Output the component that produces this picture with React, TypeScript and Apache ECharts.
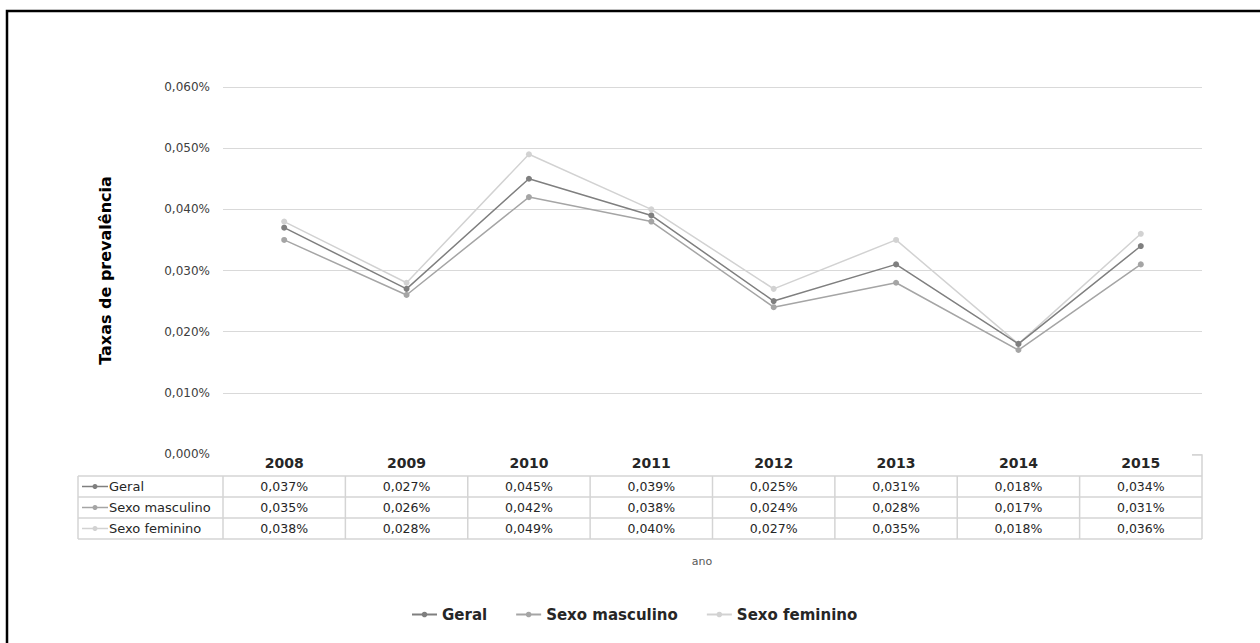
import React, { useEffect, useRef } from "react";
import * as echarts from "echarts";

const years = ["2008", "2009", "2010", "2011", "2012", "2013", "2014", "2015"];
const seriesNames = ["Geral", "Sexo masculino", "Sexo feminino"];
const geral = [0.037, 0.027, 0.045, 0.039, 0.025, 0.031, 0.018, 0.034];
const masculino = [0.035, 0.026, 0.042, 0.038, 0.024, 0.028, 0.017, 0.031];
const feminino = [0.038, 0.028, 0.049, 0.040, 0.027, 0.035, 0.018, 0.036];
const seriesColors = ["#7f7f7f", "#a5a5a5", "#d2d2d2"];
const yTicks = { min: 0, max: 0.06, interval: 0.01 };

const fmt = (v: number) => v.toFixed(3).replace(".", ",") + "%";

const W = 1260;
const H = 643;
const gridLeft = 223;
const gridRight = 1202;
const gridTop = 87;
const gridBottomY = 454;
const tableLeft = 78;
const rowLines = [476, 497, 518, 539];

export default function App() {
  const ref = useRef<HTMLDivElement>(null);
  useEffect(() => {
    if (!ref.current) return;
    const chart = echarts.init(ref.current, null, { renderer: "svg" });
    const rows = [geral, masculino, feminino];
    const colW = (gridRight - gridLeft) / years.length;
    const rowCenters = [0, 1, 2].map((i) => (rowLines[i] + rowLines[i + 1]) / 2);
    const font = "DejaVu Sans";
    const textColor = "#262626";
    const borderColor = "#d4d4d4";

    const graphics: any[] = [];
    // outer frame
    graphics.push({
      type: "rect",
      shape: { x: 7, y: 11, width: 1400, height: 800 },
      style: { fill: "none", stroke: "#000", lineWidth: 2.5 },
      silent: true,
    });
    // hide the zero gridline (the reference shows none there)
    graphics.push({
      type: "line",
      z: 100,
      shape: { x1: gridLeft - 1, y1: gridBottomY, x2: gridRight - 10, y2: gridBottomY },
      style: { stroke: "#fff", lineWidth: 3 },
    });
    // table horizontal lines
    rowLines.forEach((y) => {
      graphics.push({
        type: "line",
        shape: { x1: tableLeft, y1: y, x2: gridRight, y2: y },
        style: { stroke: borderColor, lineWidth: 1.5 },
      });
    });
    // vertical lines
    const vx = [tableLeft, gridLeft];
    for (let i = 1; i <= years.length; i++) vx.push(gridLeft + i * colW);
    vx.forEach((x) => {
      graphics.push({
        type: "line",
        shape: { x1: x, y1: rowLines[0], x2: x, y2: rowLines[3] },
        style: { stroke: borderColor, lineWidth: 1.5 },
      });
    });
    // header right border
    graphics.push({
      type: "polyline",
      z: 101,
      shape: { points: [[gridRight - 10, gridBottomY + 1], [gridRight, gridBottomY + 1], [gridRight, rowLines[0]]] },
      style: { stroke: borderColor, lineWidth: 1.5, fill: "none" },
    });
    // row labels with legend glyphs
    seriesNames.forEach((name, i) => {
      const cy = rowCenters[i];
      graphics.push({
        type: "line",
        shape: { x1: 82, y1: cy, x2: 108, y2: cy },
        style: { stroke: seriesColors[i], lineWidth: 1.5 },
      });
      graphics.push({
        type: "circle",
        shape: { cx: 95, cy, r: 2.5 },
        style: { fill: seriesColors[i] },
      });
      graphics.push({
        type: "text",
        x: 109,
        y: cy,
        style: { text: name, font: `13px "${font}"`, fill: textColor, textVerticalAlign: "middle", textAlign: "left" },
      });
    });
    graphics.push({
      type: "text",
      x: 702,
      y: 561,
      style: { text: "ano", font: `11px "${font}"`, fill: "#595959", textAlign: "center", textVerticalAlign: "middle" },
    });

    const tableAxes = rows.map((r, i) => ({
      type: "category",
      gridIndex: 0,
      data: years,
      position: "bottom",
      offset: rowCenters[i] - gridBottomY,
      axisLine: { show: false },
      axisTick: { show: false },
      splitLine: { show: false },
      axisLabel: {
        interval: 0,
        margin: 0,
        verticalAlign: "middle",
        fontFamily: font,
        fontSize: 12.5,
        color: textColor,
        formatter: (_v: string, idx: number) => fmt(r[idx]),
      },
    }));

    const data = [geral, masculino, feminino];
    chart.setOption({
      animation: false,
      backgroundColor: "#fff",
      grid: {
        left: gridLeft,
        right: W - gridRight,
        top: gridTop,
        bottom: H - gridBottomY,
        containLabel: false,
        outerBoundsMode: "none",
      },
      legend: {
        data: seriesNames,
        left: 406,
        top: 602,
        itemWidth: 25,
        itemHeight: 7,
        itemGap: 28,
        textStyle: { fontFamily: font, fontSize: 15, fontWeight: "bold", color: textColor },
      },
      xAxis: [
        {
          type: "category",
          data: years,
          axisLine: { show: false },
          axisTick: { show: false },
          splitLine: { show: false },
          axisLabel: {
            interval: 0,
            margin: 9,
            verticalAlign: "middle",
            fontFamily: font,
            fontSize: 14,
            fontWeight: "bold",
            color: textColor,
          },
        },
        ...tableAxes,
      ],
      yAxis: {
        type: "value",
        min: yTicks.min,
        max: yTicks.max,
        interval: yTicks.interval,
        name: "Taxas de prevalência",
        nameLocation: "middle",
        nameRotate: 90,
        nameGap: 110,
        nameTextStyle: { fontFamily: font, fontSize: 16, fontWeight: "bold", color: "#000" },
        axisLine: { show: false },
        axisTick: { show: false },
        splitLine: { show: true, lineStyle: { color: "#d9d9d9", width: 1.2 } },
        axisLabel: {
          margin: 13,
          fontFamily: font,
          fontSize: 12,
          color: "#404040",
          formatter: (v: number) => fmt(v),
        },
      },
      series: seriesNames.map((name, i) => ({
        name,
        type: "line",
        xAxisIndex: 0,
        data: data[i],
        symbol: "circle",
        symbolSize: 6,
        itemStyle: { color: seriesColors[i] },
        lineStyle: { color: seriesColors[i], width: 1.5 },
        z: 10 - i,
      })),
      graphic: graphics,
    });
    return () => chart.dispose();
  }, []);
  return (
    <div
      ref={ref}
      style={{ position: "fixed", left: 0, top: 0, width: W, height: H, background: "#fff" }}
    />
  );
}
